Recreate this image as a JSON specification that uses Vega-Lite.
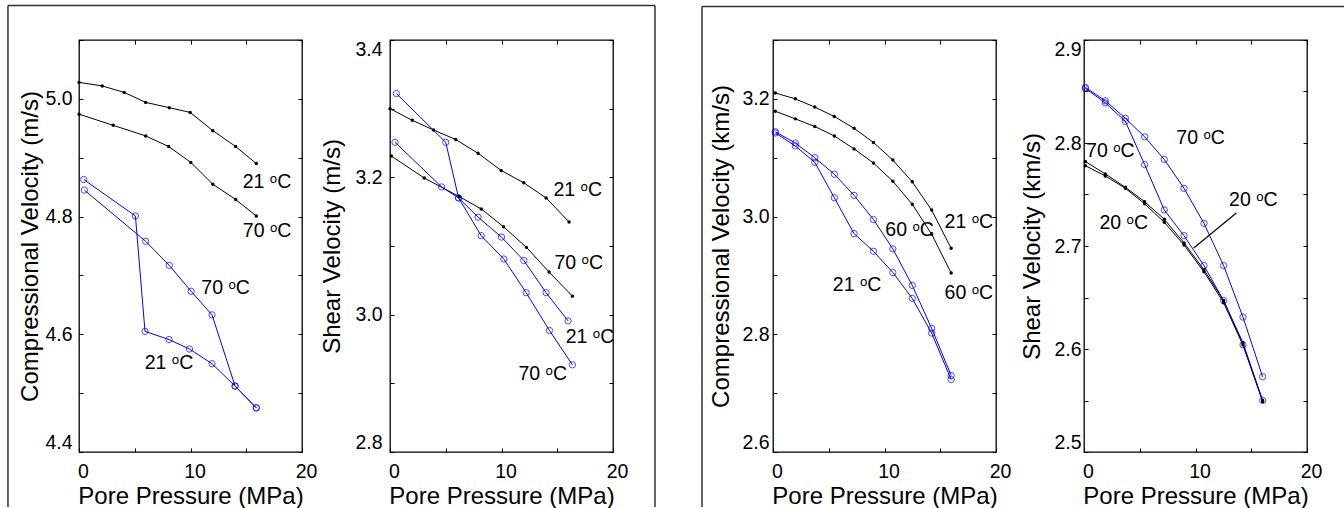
{
"$schema":"https://vega.github.io/schema/vega-lite/v6.json",
"background":"white",
"padding":{"left":6,"top":4,"right":0,"bottom":0},
"config":{
 "font":"Liberation Sans",
 "view":{"stroke":"#000000","strokeWidth":1.3},
 "axis":{"grid":false,"domain":false,"tickSize":-4,"tickColor":"#000000","tickWidth":1,"labelFont":"Liberation Sans","labelFontSize":19.5,"labelColor":"#000000","titleFont":"Liberation Sans","titleFontSize":24,"titleFontWeight":"normal","titleColor":"#000000"},
 "axisX":{"labelPadding":14,"titlePadding":4,"labelOffset":4,"labelFlush":false},
 "axisY":{"labelFlush":true}
},
"datasets":{
"d1":[
{"p":0,"v":5.028,"s":"k21","c":"k"},{"p":2.08,"v":5.022,"s":"k21","c":"k"},{"p":4.05,"v":5.011,"s":"k21","c":"k"},{"p":5.98,"v":4.994,"s":"k21","c":"k"},{"p":8.1,"v":4.985,"s":"k21","c":"k"},{"p":9.97,"v":4.977,"s":"k21","c":"k"},{"p":12.0,"v":4.946,"s":"k21","c":"k"},{"p":14.05,"v":4.919,"s":"k21","c":"k"},{"p":15.9,"v":4.890,"s":"k21","c":"k"},
{"p":0,"v":4.974,"s":"k70","c":"k"},{"p":3.07,"v":4.955,"s":"k70","c":"k"},{"p":5.98,"v":4.937,"s":"k70","c":"k"},{"p":8.04,"v":4.919,"s":"k70","c":"k"},{"p":10.03,"v":4.892,"s":"k70","c":"k"},{"p":12.0,"v":4.855,"s":"k70","c":"k"},{"p":14.05,"v":4.829,"s":"k70","c":"k"},{"p":15.9,"v":4.801,"s":"k70","c":"k"},
{"p":0.42,"v":4.863,"s":"b21","c":"b"},{"p":5.06,"v":4.801,"s":"b21","c":"b"},{"p":5.92,"v":4.605,"s":"b21","c":"b"},{"p":8.07,"v":4.591,"s":"b21","c":"b"},{"p":9.91,"v":4.575,"s":"b21","c":"b"},{"p":11.93,"v":4.550,"s":"b21","c":"b"},{"p":14.0,"v":4.512,"s":"b21","c":"b"},{"p":15.9,"v":4.475,"s":"b21","c":"b"},
{"p":0.48,"v":4.845,"s":"b70","c":"b"},{"p":5.98,"v":4.758,"s":"b70","c":"b"},{"p":8.1,"v":4.717,"s":"b70","c":"b"},{"p":10.06,"v":4.673,"s":"b70","c":"b"},{"p":11.93,"v":4.633,"s":"b70","c":"b"},{"p":14.0,"v":4.512,"s":"b70","c":"b"},{"p":15.9,"v":4.475,"s":"b70","c":"b"}
],
"t1":[
{"p":16.86,"v":4.859,"t":"21 ᵒC"},{"p":16.87,"v":4.775,"t":"70 ᵒC"},{"p":13.15,"v":4.679,"t":"70 ᵒC"},{"p":8.07,"v":4.552,"t":"21 ᵒC"}
],
"d2":[
{"p":0,"v":3.300,"s":"k21","c":"k"},{"p":2.0,"v":3.283,"s":"k21","c":"k"},{"p":3.9,"v":3.269,"s":"k21","c":"k"},{"p":5.9,"v":3.255,"s":"k21","c":"k"},{"p":7.9,"v":3.235,"s":"k21","c":"k"},{"p":9.97,"v":3.210,"s":"k21","c":"k"},{"p":12.0,"v":3.192,"s":"k21","c":"k"},{"p":14.0,"v":3.170,"s":"k21","c":"k"},{"p":16.06,"v":3.135,"s":"k21","c":"k"},
{"p":0.12,"v":3.231,"s":"k70","c":"k"},{"p":3.07,"v":3.199,"s":"k70","c":"k"},{"p":6.2,"v":3.172,"s":"k70","c":"k"},{"p":8.18,"v":3.154,"s":"k70","c":"k"},{"p":10.18,"v":3.128,"s":"k70","c":"k"},{"p":12.24,"v":3.098,"s":"k70","c":"k"},{"p":14.27,"v":3.062,"s":"k70","c":"k"},{"p":16.36,"v":3.027,"s":"k70","c":"k"},
{"p":0.57,"v":3.322,"s":"b70","c":"b"},{"p":5.0,"v":3.251,"s":"b70","c":"b"},{"p":6.15,"v":3.170,"s":"b70","c":"b"},{"p":8.18,"v":3.115,"s":"b70","c":"b"},{"p":10.21,"v":3.081,"s":"b70","c":"b"},{"p":12.21,"v":3.032,"s":"b70","c":"b"},{"p":14.3,"v":2.977,"s":"b70","c":"b"},{"p":16.36,"v":2.927,"s":"b70","c":"b"},
{"p":0.45,"v":3.251,"s":"b21","c":"b"},{"p":4.63,"v":3.186,"s":"b21","c":"b"},{"p":6.15,"v":3.170,"s":"b21","c":"b"},{"p":7.9,"v":3.142,"s":"b21","c":"b"},{"p":10.0,"v":3.113,"s":"b21","c":"b"},{"p":12.0,"v":3.079,"s":"b21","c":"b"},{"p":14.0,"v":3.032,"s":"b21","c":"b"},{"p":15.97,"v":2.991,"s":"b21","c":"b"}
],
"t2":[
{"p":16.84,"v":3.182,"t":"21 ᵒC"},{"p":16.93,"v":3.075,"t":"70 ᵒC"},{"p":17.94,"v":2.967,"t":"21 ᵒC"},{"p":13.7,"v":2.914,"t":"70 ᵒC"}
],
"d3":[
{"p":0.21,"v":3.210,"s":"k21","c":"k"},{"p":2.0,"v":3.200,"s":"k21","c":"k"},{"p":3.75,"v":3.186,"s":"k21","c":"k"},{"p":5.5,"v":3.170,"s":"k21","c":"k"},{"p":7.27,"v":3.150,"s":"k21","c":"k"},{"p":9.01,"v":3.126,"s":"k21","c":"k"},{"p":10.75,"v":3.096,"s":"k21","c":"k"},{"p":12.49,"v":3.059,"s":"k21","c":"k"},{"p":14.23,"v":3.011,"s":"k21","c":"k"},{"p":15.98,"v":2.946,"s":"k21","c":"k"},
{"p":0.21,"v":3.179,"s":"k60","c":"k"},{"p":2.0,"v":3.166,"s":"k60","c":"k"},{"p":3.75,"v":3.153,"s":"k60","c":"k"},{"p":5.5,"v":3.137,"s":"k60","c":"k"},{"p":7.27,"v":3.115,"s":"k60","c":"k"},{"p":9.01,"v":3.091,"s":"k60","c":"k"},{"p":10.75,"v":3.060,"s":"k60","c":"k"},{"p":12.49,"v":3.021,"s":"k60","c":"k"},{"p":14.23,"v":2.970,"s":"k60","c":"k"},{"p":15.98,"v":2.904,"s":"k60","c":"k"},
{"p":0.21,"v":3.144,"s":"b60","c":"b"},{"p":2.0,"v":3.125,"s":"b60","c":"b"},{"p":3.75,"v":3.100,"s":"b60","c":"b"},{"p":5.5,"v":3.072,"s":"b60","c":"b"},{"p":7.27,"v":3.036,"s":"b60","c":"b"},{"p":9.01,"v":2.995,"s":"b60","c":"b"},{"p":10.75,"v":2.945,"s":"b60","c":"b"},{"p":12.49,"v":2.883,"s":"b60","c":"b"},{"p":14.23,"v":2.810,"s":"b60","c":"b"},{"p":15.98,"v":2.730,"s":"b60","c":"b"},
{"p":0.21,"v":3.142,"s":"b21","c":"b"},{"p":2.0,"v":3.120,"s":"b21","c":"b"},{"p":3.75,"v":3.092,"s":"b21","c":"b"},{"p":5.5,"v":3.032,"s":"b21","c":"b"},{"p":7.27,"v":2.971,"s":"b21","c":"b"},{"p":9.01,"v":2.941,"s":"b21","c":"b"},{"p":10.75,"v":2.905,"s":"b21","c":"b"},{"p":12.49,"v":2.861,"s":"b21","c":"b"},{"p":14.23,"v":2.802,"s":"b21","c":"b"},{"p":15.98,"v":2.723,"s":"b21","c":"b"}
],
"t3":[
{"p":17.57,"v":2.990,"t":"21 ᵒC"},{"p":12.25,"v":2.978,"t":"60 ᵒC"},{"p":7.54,"v":2.884,"t":"21 ᵒC"},{"p":17.57,"v":2.870,"t":"60 ᵒC"}
],
"d4":[
{"p":0.12,"v":2.782,"s":"k70","c":"k"},{"p":1.91,"v":2.770,"s":"k70","c":"k"},{"p":3.71,"v":2.757,"s":"k70","c":"k"},{"p":5.44,"v":2.743,"s":"k70","c":"k"},{"p":7.2,"v":2.726,"s":"k70","c":"k"},{"p":8.97,"v":2.703,"s":"k70","c":"k"},{"p":10.76,"v":2.677,"s":"k70","c":"k"},{"p":12.52,"v":2.647,"s":"k70","c":"k"},{"p":14.26,"v":2.606,"s":"k70","c":"k"},{"p":16.02,"v":2.550,"s":"k70","c":"k"},
{"p":0.12,"v":2.778,"s":"k20","c":"k"},{"p":1.91,"v":2.768,"s":"k20","c":"k"},{"p":3.71,"v":2.756,"s":"k20","c":"k"},{"p":5.44,"v":2.741,"s":"k20","c":"k"},{"p":7.2,"v":2.723,"s":"k20","c":"k"},{"p":8.97,"v":2.701,"s":"k20","c":"k"},{"p":10.76,"v":2.675,"s":"k20","c":"k"},{"p":12.52,"v":2.645,"s":"k20","c":"k"},{"p":14.26,"v":2.604,"s":"k20","c":"k"},{"p":16.02,"v":2.549,"s":"k20","c":"k"},
{"p":0.12,"v":2.854,"s":"b70","c":"b"},{"p":1.91,"v":2.841,"s":"b70","c":"b"},{"p":3.71,"v":2.824,"s":"b70","c":"b"},{"p":5.44,"v":2.806,"s":"b70","c":"b"},{"p":7.2,"v":2.784,"s":"b70","c":"b"},{"p":8.97,"v":2.756,"s":"b70","c":"b"},{"p":10.76,"v":2.722,"s":"b70","c":"b"},{"p":12.52,"v":2.681,"s":"b70","c":"b"},{"p":14.26,"v":2.631,"s":"b70","c":"b"},{"p":16.02,"v":2.573,"s":"b70","c":"b"},
{"p":0.12,"v":2.853,"s":"b20","c":"b"},{"p":1.91,"v":2.839,"s":"b20","c":"b"},{"p":3.71,"v":2.821,"s":"b20","c":"b"},{"p":5.44,"v":2.779,"s":"b20","c":"b"},{"p":7.2,"v":2.735,"s":"b20","c":"b"},{"p":8.97,"v":2.710,"s":"b20","c":"b"},{"p":10.76,"v":2.681,"s":"b20","c":"b"},{"p":12.52,"v":2.647,"s":"b20","c":"b"},{"p":14.26,"v":2.604,"s":"b20","c":"b"},{"p":16.02,"v":2.550,"s":"b20","c":"b"}
],
"t4":[
{"p":10.46,"v":2.8046,"t":"70 ᵒC"},{"p":2.36,"v":2.7925,"t":"70 ᵒC"},{"p":3.56,"v":2.722,"t":"20 ᵒC"},{"p":15.19,"v":2.745,"t":"20 ᵒC"}
],
"l4":[{"p":13.66,"v":2.732,"p2":9.84,"v2":2.698}]
},
"spacing":43,
"hconcat":[
{"spacing":88,"bounds":"flush","hconcat":[
 {"width":223,"height":412,"data":{"name":"d1"},
  "resolve":{"axis":{"x":"independent","y":"independent"}},
  "layer":[
   {"data":{"values":[{}]},"mark":{"type":"rule","stroke":"#333333","strokeWidth":1.5},"encoding":{"x":{"datum":-6.37,"type":"quantitative","axis":null},"y":{"datum":4.3066,"type":"quantitative","axis":null},"y2":{"datum":5.1586}}},
   {"data":{"values":[{}]},"mark":{"type":"rule","stroke":"#333333","strokeWidth":1.5},"encoding":{"x":{"datum":-6.37,"type":"quantitative","axis":null},"x2":{"datum":51.66},"y":{"datum":5.1586,"type":"quantitative","axis":null}}},
   {"data":{"values":[{}]},"mark":{"type":"rule","stroke":"#333333","strokeWidth":1.5},"encoding":{"x":{"datum":51.66,"type":"quantitative","axis":null},"y":{"datum":4.3066,"type":"quantitative","axis":null},"y2":{"datum":5.1586}}},
   {"mark":{"type":"line","strokeWidth":1},
    "encoding":{
     "x":{"field":"p","type":"quantitative","scale":{"domain":[0,20],"nice":false,"zero":false},"axis":{"title":"Pore Pressure (MPa)","values":[0,5,10,15,20],"labelExpr":"datum.value % 10 == 0 ? datum.label : ''"}},
     "y":{"field":"v","type":"quantitative","scale":{"domain":[4.4,5.1],"nice":false,"zero":false},"axis":{"title":"Compressional Velocity (m/s)","values":[4.4,4.5,4.6,4.7,4.8,4.9,5.0,5.1],"labelExpr":"round(datum.value*10) % 2 == 0 ? format(datum.value, '.1f') : ''","labelPadding":11,"titlePadding":2}},
     "detail":{"field":"s"},
     "color":{"field":"c","type":"nominal","scale":{"domain":["k","b"],"range":["#000000","#0000ff"]},"legend":null}}},
   {"transform":[{"filter":"datum.c == 'b'"}],"mark":{"type":"point","shape":"circle","filled":false,"size":40,"strokeWidth":1,"color":"#0000ff"},"encoding":{"x":{"field":"p","type":"quantitative","axis":null},"y":{"field":"v","type":"quantitative","axis":null}}},
   {"transform":[{"filter":"datum.c == 'k'"}],"mark":{"type":"circle","size":12,"color":"#000000","opacity":1},"encoding":{"x":{"field":"p","type":"quantitative","axis":null},"y":{"field":"v","type":"quantitative","axis":null}}},
   {"data":{"name":"t1"},"mark":{"type":"text","font":"Liberation Sans","fontSize":19.5,"color":"#000000","align":"center","baseline":"middle"},
    "encoding":{"x":{"field":"p","type":"quantitative","axis":{"orient":"top","labels":false,"title":null,"values":[0,5,10,15,20]}},"y":{"field":"v","type":"quantitative","axis":{"orient":"right","labels":false,"title":null,"values":[4.4,4.5,4.6,4.7,4.8,4.9,5.0,5.1]}},"text":{"field":"t"}}}
  ]},
 {"width":223,"height":412,"data":{"name":"d2"},
  "resolve":{"axis":{"x":"independent","y":"independent"}},
  "layer":[
   {"mark":{"type":"line","strokeWidth":1},
    "encoding":{
     "x":{"field":"p","type":"quantitative","scale":{"domain":[0,20],"nice":false,"zero":false},"axis":{"title":"Pore Pressure (MPa)","values":[0,5,10,15,20],"labelExpr":"datum.value % 10 == 0 ? datum.label : ''"}},
     "y":{"field":"v","type":"quantitative","scale":{"domain":[2.8,3.4],"nice":false,"zero":false},"axis":{"title":"Shear Velocity (m/s)","values":[2.8,2.9,3.0,3.1,3.2,3.3,3.4],"labelExpr":"round(datum.value*10) % 2 == 0 ? format(datum.value, '.1f') : ''","labelPadding":12,"titlePadding":10}},
     "detail":{"field":"s"},
     "color":{"field":"c","type":"nominal","scale":{"domain":["k","b"],"range":["#000000","#0000ff"]},"legend":null}}},
   {"transform":[{"filter":"datum.c == 'b'"}],"mark":{"type":"point","shape":"circle","filled":false,"size":40,"strokeWidth":1,"color":"#0000ff"},"encoding":{"x":{"field":"p","type":"quantitative","axis":null},"y":{"field":"v","type":"quantitative","axis":null}}},
   {"transform":[{"filter":"datum.c == 'k'"}],"mark":{"type":"circle","size":12,"color":"#000000","opacity":1},"encoding":{"x":{"field":"p","type":"quantitative","axis":null},"y":{"field":"v","type":"quantitative","axis":null}}},
   {"data":{"name":"t2"},"mark":{"type":"text","font":"Liberation Sans","fontSize":19.5,"color":"#000000","align":"center","baseline":"middle"},
    "encoding":{"x":{"field":"p","type":"quantitative","axis":{"orient":"top","labels":false,"title":null,"values":[0,5,10,15,20]}},"y":{"field":"v","type":"quantitative","axis":{"orient":"right","labels":false,"title":null,"values":[2.8,2.9,3.0,3.1,3.2,3.3,3.4]}},"text":{"field":"t"}}}
  ]}
]},
{"spacing":88,"bounds":"flush","hconcat":[
 {"width":223,"height":412,"data":{"name":"d3"},
  "resolve":{"axis":{"x":"independent","y":"independent"}},
  "layer":[
   {"data":{"values":[{}]},"mark":{"type":"rule","stroke":"#333333","strokeWidth":1.5},"encoding":{"x":{"datum":-6.37,"type":"quantitative","axis":null},"y":{"datum":2.5066,"type":"quantitative","axis":null},"y2":{"datum":3.3569}}},
   {"data":{"values":[{}]},"mark":{"type":"rule","stroke":"#333333","strokeWidth":1.5},"encoding":{"x":{"datum":-6.37,"type":"quantitative","axis":null},"x2":{"datum":51.39},"y":{"datum":3.3569,"type":"quantitative","axis":null}}},
   {"data":{"values":[{}]},"mark":{"type":"rule","stroke":"#333333","strokeWidth":1.5},"encoding":{"x":{"datum":51.39,"type":"quantitative","axis":null},"y":{"datum":2.5066,"type":"quantitative","axis":null},"y2":{"datum":3.3569}}},
   {"mark":{"type":"line","strokeWidth":1},
    "encoding":{
     "x":{"field":"p","type":"quantitative","scale":{"domain":[0,20],"nice":false,"zero":false},"axis":{"title":"Pore Pressure (MPa)","values":[0,5,10,15,20],"labelExpr":"datum.value % 10 == 0 ? datum.label : ''"}},
     "y":{"field":"v","type":"quantitative","scale":{"domain":[2.6,3.3],"nice":false,"zero":false},"axis":{"title":"Compressional Velocity (km/s)","values":[2.6,2.7,2.8,2.9,3.0,3.1,3.2,3.3],"labelExpr":"round(datum.value*10) % 2 == 0 ? format(datum.value, '.1f') : ''","labelPadding":8,"titlePadding":8}},
     "detail":{"field":"s"},
     "color":{"field":"c","type":"nominal","scale":{"domain":["k","b"],"range":["#000000","#0000ff"]},"legend":null}}},
   {"transform":[{"filter":"datum.c == 'b'"}],"mark":{"type":"point","shape":"circle","filled":false,"size":40,"strokeWidth":1,"color":"#0000ff"},"encoding":{"x":{"field":"p","type":"quantitative","axis":null},"y":{"field":"v","type":"quantitative","axis":null}}},
   {"transform":[{"filter":"datum.c == 'k'"}],"mark":{"type":"circle","size":12,"color":"#000000","opacity":1},"encoding":{"x":{"field":"p","type":"quantitative","axis":null},"y":{"field":"v","type":"quantitative","axis":null}}},
   {"data":{"name":"t3"},"mark":{"type":"text","font":"Liberation Sans","fontSize":19.5,"color":"#000000","align":"center","baseline":"middle"},
    "encoding":{"x":{"field":"p","type":"quantitative","axis":{"orient":"top","labels":false,"title":null,"values":[0,5,10,15,20]}},"y":{"field":"v","type":"quantitative","axis":{"orient":"right","labels":false,"title":null,"values":[2.6,2.7,2.8,2.9,3.0,3.1,3.2,3.3]}},"text":{"field":"t"}}}
  ]},
 {"width":223,"height":412,"data":{"name":"d4"},
  "resolve":{"axis":{"x":"independent","y":"independent"}},
  "layer":[
   {"mark":{"type":"line","strokeWidth":1},
    "encoding":{
     "x":{"field":"p","type":"quantitative","scale":{"domain":[0,20],"nice":false,"zero":false},"axis":{"title":"Pore Pressure (MPa)","values":[0,5,10,15,20],"labelExpr":"datum.value % 10 == 0 ? datum.label : ''"}},
     "y":{"field":"v","type":"quantitative","scale":{"domain":[2.5,2.9],"nice":false,"zero":false},"axis":{"title":"Shear Velocity (km/s)","values":[2.5,2.55,2.6,2.65,2.7,2.75,2.8,2.85,2.9],"labelExpr":"abs(datum.value*10 - round(datum.value*10)) < 0.01 ? format(datum.value, '.1f') : ''","labelPadding":7,"titlePadding":9}},
     "detail":{"field":"s"},
     "color":{"field":"c","type":"nominal","scale":{"domain":["k","b"],"range":["#000000","#0000ff"]},"legend":null}}},
   {"transform":[{"filter":"datum.c == 'b'"}],"mark":{"type":"point","shape":"circle","filled":false,"size":40,"strokeWidth":1,"color":"#0000ff"},"encoding":{"x":{"field":"p","type":"quantitative","axis":null},"y":{"field":"v","type":"quantitative","axis":null}}},
   {"transform":[{"filter":"datum.c == 'k'"}],"mark":{"type":"circle","size":12,"color":"#000000","opacity":1},"encoding":{"x":{"field":"p","type":"quantitative","axis":null},"y":{"field":"v","type":"quantitative","axis":null}}},
   {"data":{"name":"l4"},"mark":{"type":"rule","color":"#000000","strokeWidth":1.2},"encoding":{"x":{"field":"p","type":"quantitative","axis":null},"y":{"field":"v","type":"quantitative","axis":null},"x2":{"field":"p2"},"y2":{"field":"v2"}}},
   {"data":{"name":"t4"},"mark":{"type":"text","font":"Liberation Sans","fontSize":19.5,"color":"#000000","align":"center","baseline":"middle"},
    "encoding":{"x":{"field":"p","type":"quantitative","axis":{"orient":"top","labels":false,"title":null,"values":[0,5,10,15,20]}},"y":{"field":"v","type":"quantitative","axis":{"orient":"right","labels":false,"title":null,"values":[2.5,2.55,2.6,2.65,2.7,2.75,2.8,2.85,2.9]}},"text":{"field":"t"}}}
  ]}
]}
]
}
